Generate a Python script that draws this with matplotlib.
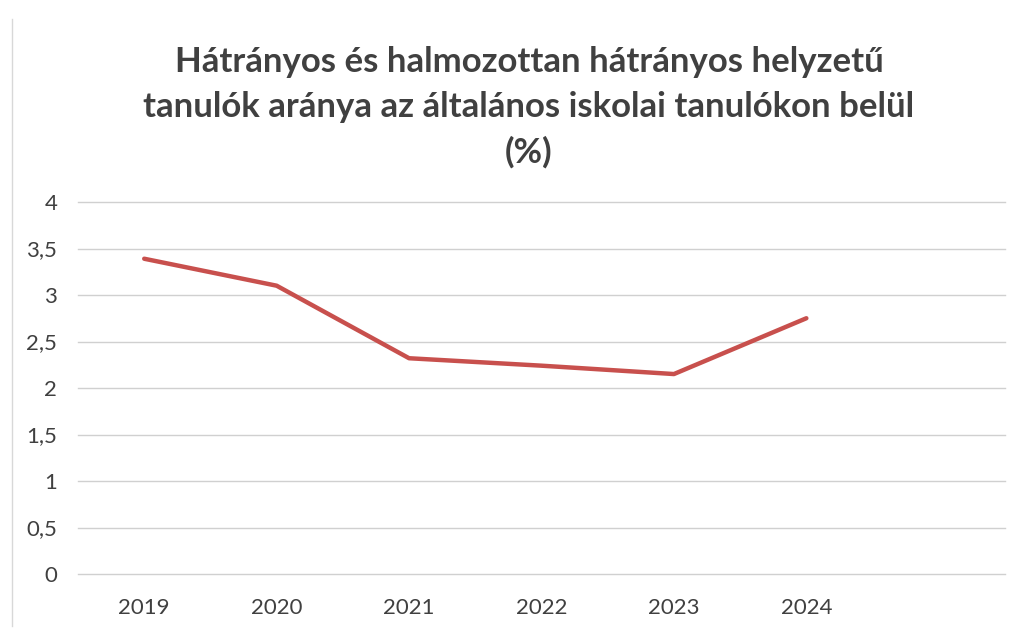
import matplotlib
matplotlib.use("Agg")
import numpy as np
from matplotlib import pyplot as plt

# Data
years = ["2019", "2020", "2021", "2022", "2023", "2024", ""]
values = [3.39, 3.10, 2.32, 2.24, 2.15, 2.75]
y_ticks = [0, 0.5, 1, 1.5, 2, 2.5, 3, 3.5, 4]
y_labels = ["0", "0,5", "1", "1,5", "2", "2,5", "3", "3,5", "4"]

title = ("Hátrányos és halmozottan hátrányos helyzetű\n"
         "tanulók aránya az általános iskolai tanulókon belül\n"
         "(%)")

plt.rcParams["font.family"] = ["Lato", "DejaVu Sans"]

fig = plt.figure(figsize=(10.21, 6.32), dpi=100)
ax = fig.add_axes([78 / 1021, 1 - 574 / 632, 927 / 1021, 372 / 632])

x = np.arange(len(years))
ax.plot(x[:len(values)], values, color="#C8504D", linewidth=3.2,
        solid_capstyle="round", solid_joinstyle="round", zorder=3)

ax.set_xlim(-0.5, len(years) - 0.5)
ax.set_ylim(0, 4)
ax.set_yticks(y_ticks)
ax.set_yticklabels(y_labels)
ax.set_xticks(x)
ax.set_xticklabels(years)

ax.grid(axis="y", color="#D0D0D0", linewidth=1)
for gl in ax.yaxis.get_gridlines():
    gl.set_clip_on(False)
ax.set_axisbelow(True)
for s in ax.spines.values():
    s.set_visible(False)
ax.tick_params(length=0, labelsize=16, colors="#404040")
ax.tick_params(axis="y", pad=15)
ax.tick_params(axis="x", pad=17)

fig.text(0.518, 1 - 107 / 632, title, ha="center", va="center",
         fontsize=25, fontweight="bold", color="#404040", linespacing=1.5)

# faint border line of the scanned page
fig.add_artist(plt.Line2D([12 / 1021, 12 / 1021], [0.01, 0.97],
                          transform=fig.transFigure, color="#D8D8D8", linewidth=1))

fig.savefig("out.png", dpi=100, facecolor="white")
